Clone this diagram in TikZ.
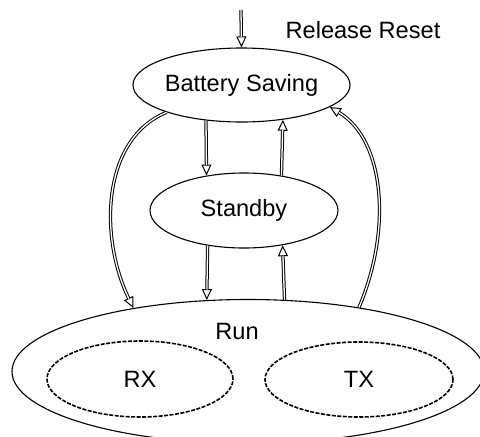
\documentclass[tikz,border=0pt]{standalone}
\usepackage{fontspec}
\setmainfont{Liberation Sans}
\usetikzlibrary{shapes.geometric,arrows.meta}
\tikzset{
  lbl/.style={font=\fontsize{23.6}{28}\selectfont, inner sep=0pt},
  state/.style={ellipse, draw, line width=1.1pt, inner sep=0pt, font=\fontsize{23.6}{28}\selectfont},
  sub/.style={ellipse, draw, line width=1.6pt, dash pattern=on 4pt off 1.5pt, inner sep=0pt, font=\fontsize{23.6}{28}\selectfont},
  tip/.style={-{Triangle[open,length=11pt,width=10pt,line width=1pt]}, line width=1pt},
  dbl/.style={double, double distance=1.3pt, line width=1pt, shorten >=10.5pt},
}
\begin{document}
\begin{tikzpicture}[x=1pt,y=-1pt]
\useasboundingbox (0,0) rectangle (480,437);
\clip (0,0) rectangle (480,437);
\node[state, minimum width=187pt, minimum height=74pt] (bs) at (241.5,85) {Battery Saving};
\node[state, minimum width=188pt, minimum height=75pt] (sb) at (244,210.5) {Standby};
\node[state, minimum width=472pt, minimum height=144pt] (run) at (248,371.5) {};
\node[lbl] (runl) at (237,331) {Run};
\node[sub, minimum width=186pt, minimum height=76pt] (rx) at (140,379) {RX};
\node[sub, minimum width=188pt, minimum height=75pt] (tx) at (359,379.5) {TX};
\node[lbl] (rr) at (363,30) {Release Reset};
\coordinate (start) at (241,10);
% top arrow
\draw[tip] (start) -- (bs.north);
\draw[dbl] (start) -- (bs.north);
% battery saving <-> standby
\draw[tip] (bs.-135) -- (sb.137);
\draw[dbl] (bs.-135) -- (sb.137);
\draw[tip] (sb.43) -- (bs.-40.3);
\draw[dbl] (sb.43) -- (bs.-40.3);
% standby <-> run
\draw[tip] (sb.-136) -- (run.120);
\draw[dbl] (sb.-136) -- (run.120);
\draw[tip] (run.63.9) -- (sb.-42);
\draw[dbl] (run.63.9) -- (sb.-42);
% curves
\draw[tip] (bs.-160.4) .. controls (100,140) and (100,240) .. (run.151.5);
\draw[dbl] (bs.-160.4) .. controls (100,140) and (100,240) .. (run.151.5);
\draw[tip] (run.30.3) .. controls (392,230) and (385,140) .. (bs.-14.4);
\draw[dbl] (run.30.3) .. controls (392,230) and (385,140) .. (bs.-14.4);
\end{tikzpicture}
\end{document}
